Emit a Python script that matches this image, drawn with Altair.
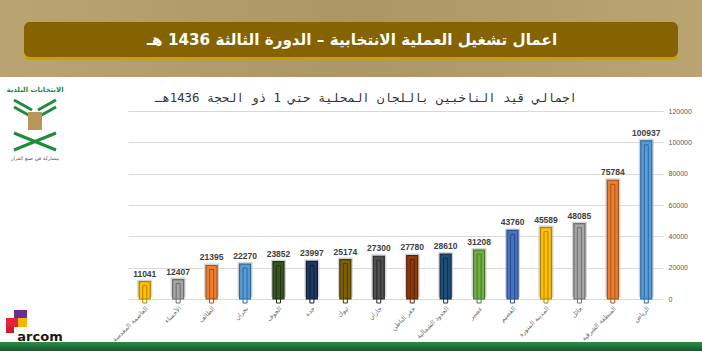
import altair as alt
import pandas as pd

regions = ["العاصمة المقدسة", "الأحساء", "الطائف", "نجران", "الجوف", "جدة", "تبوك",
           "جازان", "حفر الباطن", "الحدود الشمالية", "عسير", "القصيم",
           "المدينة المنورة", "حائل", "المنطقة الشرقية", "الرياض"]
voters = [11041, 12407, 21395, 22270, 23852, 23997, 25174, 27300, 27780, 28610,
          31208, 43760, 45589, 48085, 75784, 100937]
y_ticks = [0, 20000, 40000, 60000, 80000, 100000, 120000]

banner_title = "اعمال تشغيل العملية الانتخابية – الدورة الثالثة 1436 هـ"
chart_title = "اجمالي قيد الناخبين باللجان المحلية حتي 1 ذو الحجة 1436هـ"

fills = ["#FFC000", "#A5A5A5", "#ED7D31", "#5B9BD5", "#375623", "#203864", "#7F6000",
         "#4F4F4F", "#8E3A0C", "#1F4E79", "#70AD47", "#4472C4", "#FFC000", "#A5A5A5",
         "#ED7D31", "#5B9BD5"]
strokes = ["#B08400", "#6E6E6E", "#A4521A", "#2F6A9E", "#1E3212", "#101E38", "#4A3800",
           "#2A2A2A", "#5A2205", "#0F2D48", "#4A7A2C", "#2B4E8C", "#B08400", "#6E6E6E",
           "#A4521A", "#2F6A9E"]

df = pd.DataFrame({"region": regions, "voters": voters})
one = pd.DataFrame({"d": [0]})

X0, Y0 = 128, 111
W, H = 535, 188

x = alt.X("region:N", sort=regions, scale=alt.Scale(paddingInner=0.5, paddingOuter=0.25),
          axis=alt.Axis(title=None, labelAngle=-45, labelFontSize=6.5, labelColor="#6A6A6A",
                        labelFont="DejaVu Sans", ticks=False, domain=False, labelPadding=6))
y = alt.Y("voters:Q", scale=alt.Scale(domain=[0, 120000]),
          axis=alt.Axis(orient="right", values=y_ticks, format="d", title=None,
                        labelFontSize=7, labelColor="#595959", labelFont="Liberation Sans",
                        grid=True, gridColor="#D9D9D9", ticks=False, domain=False,
                        labelPadding=5))

base = alt.Chart(df).encode(x=x, y=y)
fill_scale = alt.Scale(domain=regions, range=fills)
stroke_scale = alt.Scale(domain=regions, range=strokes)

glow = base.mark_bar(size=15, color="#C4C4C4", opacity=0.75, yOffset=-2)
main = base.mark_bar(size=11, strokeWidth=1.2).encode(
    color=alt.Color("region:N", scale=fill_scale, legend=None),
    stroke=alt.Stroke("region:N", scale=stroke_scale, legend=None))
inner = base.mark_bar(size=4, fillOpacity=0, strokeWidth=1, yOffset=4, y2Offset=-4).encode(
    stroke=alt.Stroke("region:N", scale=stroke_scale, legend=None))
vals = base.mark_text(dy=-8, fontSize=8.5, fontWeight="bold", color="#404040",
                      font="Liberation Sans").encode(text=alt.Text("voters:Q", format="d"))


def rect(x1, y1, x2, y2, **kw):
    return alt.Chart(one).mark_rect(**kw).encode(
        x=alt.value(x1 - X0), x2=alt.value(x2 - X0),
        y=alt.value(y1 - Y0), y2=alt.value(y2 - Y0))


def text(t, xx, yy, **kw):
    return alt.Chart(one).mark_text(**kw).encode(
        x=alt.value(xx - X0), y=alt.value(yy - Y0), text=alt.value(t))


def rule(x1, y1, x2, y2, **kw):
    return alt.Chart(one).mark_rule(**kw).encode(
        x=alt.value(x1 - X0), x2=alt.value(x2 - X0),
        y=alt.value(y1 - Y0), y2=alt.value(y2 - Y0))


banner_bg = rect(0, 0, 702, 77, color=alt.Gradient(
    gradient="linear", x1=0, x2=1, y1=0, y2=0,
    stops=[alt.GradientStop(color="#B9A472", offset=0),
           alt.GradientStop(color="#AC9663", offset=0.5),
           alt.GradientStop(color="#B9A472", offset=1)]))
banner_shadow = rect(24, 25, 678, 60, color="#C9A000", cornerRadius=6)
banner_bar = rect(24, 22, 678, 57, color="#846300", cornerRadius=6)
banner_text = text(banner_title, 352, 40, color="white", fontSize=15.2, fontWeight="bold",
                   font="DejaVu Sans", align="center", baseline="middle")
title_text = text(chart_title, 366, 98, color="#333333", fontSize=12.3,
                  font="DejaVu Sans Mono", align="center", baseline="middle")

# left logo (approximation)
logo = [
    text("الانتخابات البلدية", 35, 90, color="#1E8C3A", fontSize=7, fontWeight="bold",
         font="DejaVu Sans", align="center", baseline="middle"),
    rule(14, 100, 32, 110, color="#1E8C3A", strokeWidth=3),
    rule(14, 107, 32, 117, color="#1E8C3A", strokeWidth=3),
    rule(56, 100, 38, 110, color="#1E8C3A", strokeWidth=3),
    rule(56, 107, 38, 117, color="#1E8C3A", strokeWidth=3),
    rect(28, 112, 42, 130, color="#B8955A"),
    rule(14, 133, 56, 150, color="#1E8C3A", strokeWidth=3),
    rule(56, 133, 14, 150, color="#1E8C3A", strokeWidth=3),
    text("مشاركة في صنع القرار", 35, 158, color="#555555", fontSize=5,
         font="DejaVu Sans", align="center", baseline="middle"),
]

# ARCOM logo (approximation)
arcom = [
    rect(14, 310, 27, 318, color="#6A2C91"),
    rect(6, 318, 20, 327, color="#E5243B"),
    rect(18, 318, 27, 327, color="#F2B700"),
    rect(6, 327, 14, 333, color="#C81E2E"),
    text("arcom", 40, 337, color="#1A1A1A", fontSize=13, fontWeight="bold",
         font="DejaVu Sans", align="center", baseline="middle"),
]

footer = rect(0, 342, 702, 351, color=alt.Gradient(
    gradient="linear", x1=0, x2=0, y1=0, y2=1,
    stops=[alt.GradientStop(color="#2E8B45", offset=0),
           alt.GradientStop(color="#0F5A2A", offset=1)]))

chart = alt.layer(
    glow, main, inner, vals,
    banner_bg, banner_shadow, banner_bar, banner_text, title_text,
    *logo, *arcom, footer
).properties(
    width=W, height=H,
    autosize=alt.AutoSizeParams(type="none"),
    padding={"left": X0, "top": Y0, "right": 702 - X0 - W, "bottom": 351 - Y0 - H},
    background="white",
).configure_view(stroke=None)

chart.save("out.html", embed_options={"renderer": "svg", "actions": False})
